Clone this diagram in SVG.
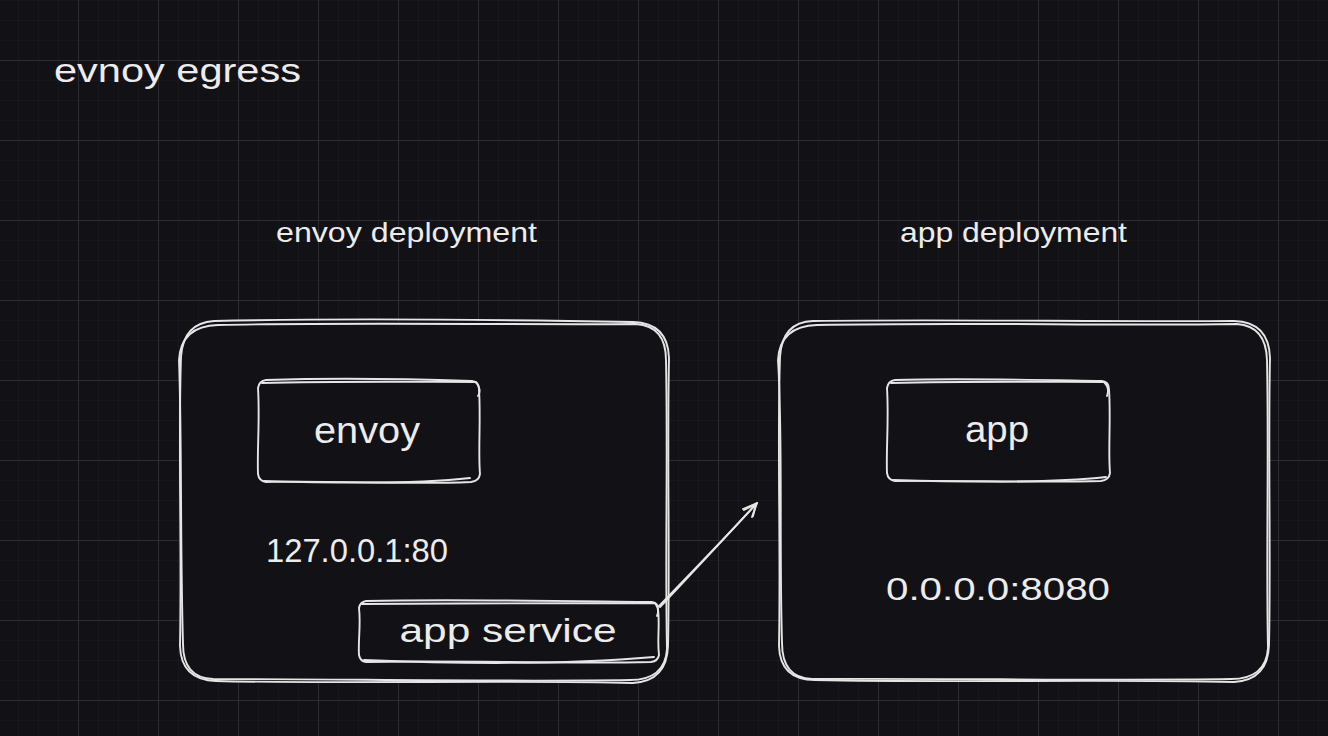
<svg xmlns="http://www.w3.org/2000/svg" width="1328" height="736" viewBox="0 0 1328 736">
<defs>
<pattern id="minor" width="20" height="20" patternUnits="userSpaceOnUse" x="18" y="0">
<path d="M0 0 H20 M0 0 V20" fill="none" stroke="#1e1d23" stroke-width="1"/>
</pattern>
<pattern id="major" width="80" height="80" patternUnits="userSpaceOnUse" x="-2" y="60">
<path d="M0 0.5 H80 M0.5 0 V80" fill="none" stroke="#2d2c32" stroke-width="1"/>
</pattern>
</defs>
<style>
.sk{fill:none;stroke:#e6e6e6;stroke-width:1.9;stroke-linecap:round;stroke-linejoin:round}
.bg{fill:#121116;stroke:none}
.t{fill:#ececec;font-family:"Liberation Sans",Arial,sans-serif}
</style>
<rect width="1328" height="736" fill="#121116"/>
<rect width="1328" height="736" fill="url(#minor)"/>
<rect width="1328" height="736" fill="url(#major)"/>

<g id="title">
<text class="t" x="54" y="82" font-size="34" textLength="247" lengthAdjust="spacingAndGlyphs">evnoy egress</text>
</g>
<g id="envoy-deployment-label">
<text class="t" x="276" y="242" font-size="28" textLength="261" lengthAdjust="spacingAndGlyphs">envoy deployment</text>
</g>
<g id="app-deployment-label">
<text class="t" x="900" y="242" font-size="28" textLength="227" lengthAdjust="spacingAndGlyphs">app deployment</text>
</g>

<g id="envoy-deployment">
<path class="bg" d="M215 322 L634 322 Q669 322 669 357 L669 647 Q669 682 634 682 L215 682 Q180 682 180 647 L180 357 Q180 322 215 322 Z"/>
<path class="sk" d="M214 321 C340 318 520 320 633 322 Q668 323 669 358 C667 450 670 560 668 646 Q667 681 633 683 C520 680 330 684 216 681 Q181 680 180 646 C182 540 178 450 181 357 Q183 323 214 321 Z"/>
<path class="sk" d="M218 325 C350 322 510 325 636 324 Q666 326 666 360 C668 460 665 560 667 649 Q665 680 630 680 C510 682 340 679 213 679 Q183 678 183 644 C180 540 182 440 179 360 Q181 326 218 325"/>
</g>

<g id="app-deployment">
<path class="bg" d="M814 322 L1235 322 Q1270 322 1270 357 L1270 646 Q1270 681 1235 681 L814 681 Q779 681 779 646 L779 357 Q779 322 814 322 Z"/>
<path class="sk" d="M813 321 C950 319 1100 322 1234 321 Q1269 322 1270 358 C1268 450 1271 560 1269 645 Q1268 680 1234 682 C1100 679 950 683 815 680 Q780 680 779 646 C781 540 777 450 780 357 Q782 322 813 321 Z"/>
<path class="sk" d="M817 325 C960 322 1110 326 1237 324 Q1266 326 1267 360 C1269 460 1266 560 1268 648 Q1266 679 1231 679 C1100 681 950 678 812 679 Q782 678 782 643 C779 540 783 440 778 360 Q780 326 817 325"/>
</g>

<g id="envoy">
<path class="bg" d="M266 380 L472 380 Q480 380 480 388 L480 474 Q480 482 472 482 L266 482 Q258 482 258 474 L258 388 Q258 380 266 380 Z"/>
<path class="sk" d="M266 380 C330 378 410 379 472 381 Q479 382 479 389 C481 420 478 450 480 474 Q479 481 471 482 C400 485 330 480 266 482 Q259 481 258 474 C257 450 260 420 258 388 Q259 381 266 380 Z"/>
<path class="sk" d="M262 383 C340 381 420 382 476 382 Q482 390 478 396 M264 481 C330 483 420 484 470 478"/>
<text class="t" x="367" y="443" font-size="37" text-anchor="middle" textLength="106" lengthAdjust="spacingAndGlyphs">envoy</text>
</g>

<g id="addr-envoy">
<text class="t" x="266" y="562" font-size="33" textLength="182" lengthAdjust="spacingAndGlyphs">127.0.0.1:80</text>
</g>

<g id="app-service">
<path class="bg" d="M366 601 L652 601 Q659 601 659 608 L659 655 Q659 662 652 662 L366 662 Q359 662 359 655 L359 608 Q359 601 366 601 Z"/>
<path class="sk" d="M366 601 C450 599 560 601 652 602 Q658 603 658 609 C660 625 657 640 659 655 Q658 661 651 662 C560 664 450 660 366 662 Q360 661 359 655 C358 640 361 625 359 608 Q360 602 366 601 Z"/>
<path class="sk" d="M362 604 C460 603 570 604 655 603 Q660 610 657 616 M364 660 C460 664 560 665 654 657"/>
<text class="t" x="508" y="642" font-size="34" text-anchor="middle" textLength="217" lengthAdjust="spacingAndGlyphs">app service</text>
</g>

<g id="app">
<path class="bg" d="M895 380 L1102 380 Q1110 380 1110 388 L1110 473 Q1110 481 1102 481 L895 481 Q887 481 887 473 L887 388 Q887 380 895 380 Z"/>
<path class="sk" d="M895 380 C960 378 1040 380 1102 381 Q1109 382 1109 389 C1111 420 1108 450 1110 473 Q1109 480 1101 481 C1040 483 960 480 895 481 Q888 480 887 473 C886 450 889 420 887 388 Q888 381 895 380 Z"/>
<path class="sk" d="M891 383 C970 381 1050 382 1104 382 Q1110 388 1107 396 M893 480 C960 482 1050 483 1106 477"/>
<text class="t" x="997" y="442" font-size="37" text-anchor="middle" textLength="64" lengthAdjust="spacingAndGlyphs">app</text>
</g>

<g id="addr-app">
<text class="t" x="886" y="600" font-size="31" textLength="224" lengthAdjust="spacingAndGlyphs">0.0.0.0:8080</text>
</g>

<g id="connectors">
<path class="sk" d="M660 607 C690 575 725 538 757 503"/>
<path class="sk" d="M659 606 C691 573 726 537 756 504"/>
<path class="sk" d="M743 509 L757 503 L752 517"/>
<path class="sk" d="M744 510 L756 504 L753 516"/>
</g>
</svg>
